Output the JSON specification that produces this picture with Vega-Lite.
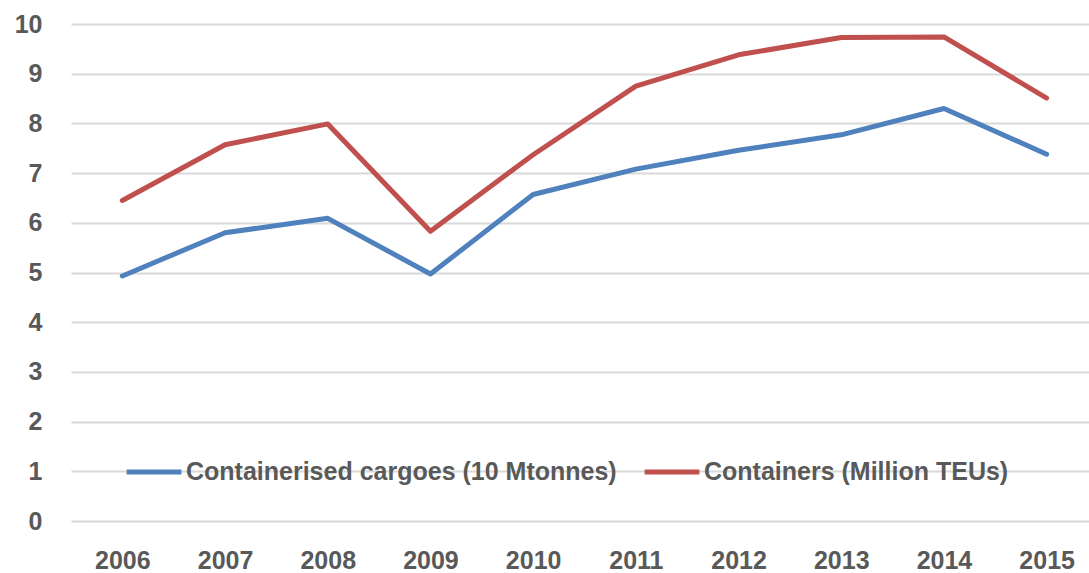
{
  "$schema": "https://vega.github.io/schema/vega-lite/v6.json",
  "autosize": {"type": "none"},
  "padding": {"left": 71, "top": 24, "right": 0, "bottom": 52},
  "width": 1027,
  "height": 497,
  "background": "white",
  "config": {
    "view": {"stroke": null},
    "font": "Liberation Sans"
  },
  "data": {
    "values": [
      {"year": "2006", "series": "Containerised cargoes (10 Mtonnes)", "value": 4.93},
      {"year": "2007", "series": "Containerised cargoes (10 Mtonnes)", "value": 5.80},
      {"year": "2008", "series": "Containerised cargoes (10 Mtonnes)", "value": 6.09},
      {"year": "2009", "series": "Containerised cargoes (10 Mtonnes)", "value": 4.97},
      {"year": "2010", "series": "Containerised cargoes (10 Mtonnes)", "value": 6.57},
      {"year": "2011", "series": "Containerised cargoes (10 Mtonnes)", "value": 7.08},
      {"year": "2012", "series": "Containerised cargoes (10 Mtonnes)", "value": 7.46},
      {"year": "2013", "series": "Containerised cargoes (10 Mtonnes)", "value": 7.77},
      {"year": "2014", "series": "Containerised cargoes (10 Mtonnes)", "value": 8.30},
      {"year": "2015", "series": "Containerised cargoes (10 Mtonnes)", "value": 7.38},
      {"year": "2006", "series": "Containers (Million TEUs)", "value": 6.45},
      {"year": "2007", "series": "Containers (Million TEUs)", "value": 7.57},
      {"year": "2008", "series": "Containers (Million TEUs)", "value": 7.99},
      {"year": "2009", "series": "Containers (Million TEUs)", "value": 5.83},
      {"year": "2010", "series": "Containers (Million TEUs)", "value": 7.37},
      {"year": "2011", "series": "Containers (Million TEUs)", "value": 8.75},
      {"year": "2012", "series": "Containers (Million TEUs)", "value": 9.38},
      {"year": "2013", "series": "Containers (Million TEUs)", "value": 9.73},
      {"year": "2014", "series": "Containers (Million TEUs)", "value": 9.74},
      {"year": "2015", "series": "Containers (Million TEUs)", "value": 8.51}
    ]
  },
  "mark": {"type": "line", "strokeWidth": 5, "strokeCap": "round", "strokeJoin": "round"},
  "encoding": {
    "x": {
      "field": "year",
      "type": "ordinal",
      "scale": {"type": "point", "padding": 0.5},
      "axis": {
        "title": null,
        "labelAngle": 0,
        "labelFont": "Liberation Sans",
        "labelFontWeight": "bold",
        "labelFontSize": 25,
        "labelColor": "#595959",
        "labelPadding": 27,
        "ticks": false,
        "domain": false,
        "grid": false
      }
    },
    "y": {
      "field": "value",
      "type": "quantitative",
      "scale": {"domain": [0, 10], "nice": false, "zero": true},
      "axis": {
        "title": null,
        "values": [0, 1, 2, 3, 4, 5, 6, 7, 8, 9, 10],
        "labelFont": "Liberation Sans",
        "labelFontWeight": "bold",
        "labelFontSize": 25,
        "labelColor": "#595959",
        "labelPadding": 29,
        "ticks": false,
        "domain": false,
        "grid": true,
        "gridColor": "#D9D9D9",
        "gridWidth": 2
      }
    },
    "color": {
      "field": "series",
      "type": "nominal",
      "sort": ["Containerised cargoes (10 Mtonnes)", "Containers (Million TEUs)"],
      "scale": {
        "domain": ["Containerised cargoes (10 Mtonnes)", "Containers (Million TEUs)"],
        "range": ["#4F81BD", "#C0504D"]
      },
      "legend": {
        "title": null,
        "orient": "none",
        "direction": "horizontal",
        "legendX": 53,
        "legendY": 418,
        "symbolType": "stroke",
        "symbolSize": 3000,
        "symbolStrokeWidth": 5,
        "labelFont": "Liberation Sans",
        "labelFontWeight": "bold",
        "labelFontSize": 25,
        "labelColor": "#595959",
        "labelOffset": 2,
        "columnPadding": 17,
        "labelLimit": 600
      }
    }
  }
}
